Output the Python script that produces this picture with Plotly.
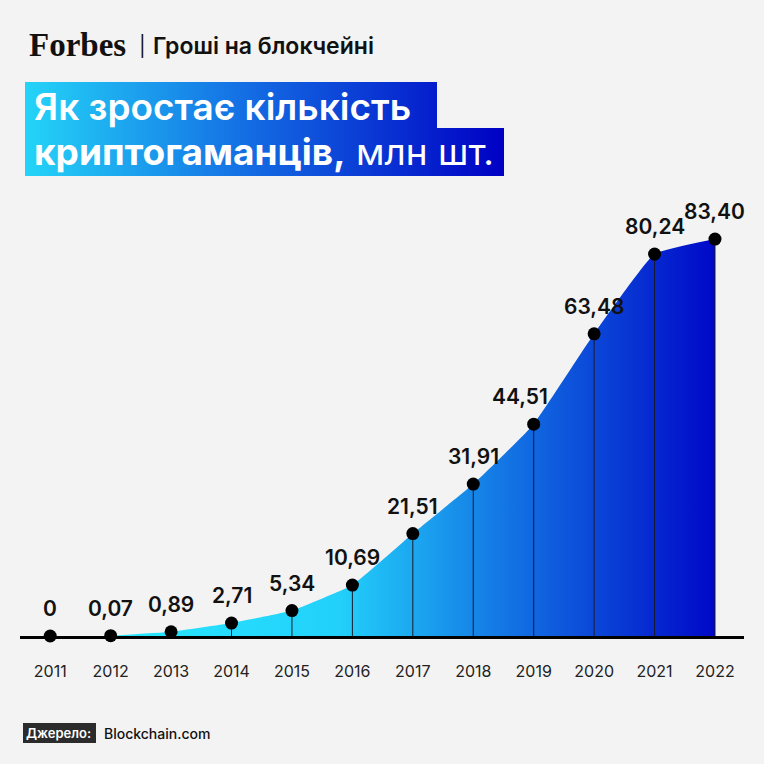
import plotly.graph_objects as go

# Data: crypto wallets, mln
years = [2011, 2012, 2013, 2014, 2015, 2016, 2017, 2018, 2019, 2020, 2021, 2022]
wallets = [0, 0.07, 0.89, 2.71, 5.34, 10.69, 21.51, 31.91, 44.51, 63.48, 80.24, 83.40]
year_labels = [str(y) for y in years]
value_labels = [f"{v:.2f}".replace(".", ",") if v else "0" for v in wallets]

W = H = 764
BG = "#f3f3f3"
FONT = "Inter"


def px(x, y):
    # pixel position -> paper coords
    return x / W, 1 - y / H


fig = go.Figure()

# gradient area under the curve (starts at 2012)
fig.add_trace(go.Scatter(
    x=years[1:], y=wallets[1:],
    mode="lines",
    line=dict(width=0, shape="spline", smoothing=0.35),
    fill="tozeroy",
    fillgradient=dict(
        type="horizontal",
        colorscale=[[0, "#28e8ff"], [0.38, "#22d0fa"], [0.6, "#1686e8"], [1, "#0008c8"]],
    ),
    hoverinfo="skip",
))

# thin drop lines from each point to the axis
drop_x, drop_y = [], []
for x, v in zip(years, wallets):
    drop_x.extend([x, x, None])
    drop_y.extend([0, v, None])
fig.add_trace(go.Scatter(
    x=drop_x, y=drop_y, mode="lines",
    line=dict(width=1, color="#1a1a2a"),
    hoverinfo="skip",
))

# points
fig.add_trace(go.Scatter(
    x=years, y=wallets,
    mode="markers",
    marker=dict(size=13, color="black"),
    cliponaxis=False,
    hoverinfo="skip",
))

# title box gradient (second axes covering the whole page in pixels)
box_x = [25, 437, 437, 504, 504, 25, 25]
box_y = [82, 82, 128, 128, 176, 176, 82]
fig.add_trace(go.Scatter(
    x=box_x, y=[H - v for v in box_y],
    xaxis="x2", yaxis="y2",
    mode="lines", line=dict(width=0),
    fill="toself",
    fillgradient=dict(
        type="horizontal",
        colorscale=[[0, "#24d4f8"], [0.45, "#1470e4"], [1, "#0000c4"]],
    ),
    hoverinfo="skip",
))

annotations = []

# value labels above the points (2019 label nudged left off the curve)
for x, v, lab in zip(years, wallets, value_labels):
    annotations.append(dict(
        x=x, y=v, xref="x", yref="y",
        xanchor="center", yanchor="bottom", yshift=13,
        xshift=-14 if x == 2019 else 0,
        showarrow=False, text=lab,
        font=dict(family=FONT, size=21, color="#111111", weight=600),
    ))


def add_text(x, y, text, size, color="#111111", family=FONT, weight=400):
    ax, ay = px(x, y)
    annotations.append(dict(
        x=ax, y=ay, xref="paper", yref="paper",
        xanchor="left", yanchor="middle", showarrow=False,
        text=text, font=dict(family=family, size=size, color=color, weight=weight),
    ))


add_text(27, 45, "Forbes", 33, "#111111", "Liberation Serif", 700)
add_text(137, 46, "|", 20, "#111111")
add_text(151, 46, "Гроші на блокчейні", 23, "#111111", weight=600)
add_text(32, 106, "Як зростає кількість", 37, "white", weight=600)
add_text(32, 151, "<b>криптогаманців,</b> млн шт.", 37, "white", weight=400)
add_text(24, 733, "Джерело:", 13, "white", weight=600)
add_text(102, 733, "Blockchain.com", 14, "#111111", weight=500)

shapes = [dict(
    type="rect", xref="paper", yref="paper",
    x0=23 / W, x1=96 / W, y0=1 - 743 / H, y1=1 - 723 / H,
    fillcolor="#2b2b2b", line=dict(width=0), layer="below",
)]

fig.update_layout(
    width=W, height=H,
    margin=dict(l=0, r=0, t=0, b=0),
    paper_bgcolor=BG, plot_bgcolor="rgba(0,0,0,0)",
    showlegend=False,
    xaxis=dict(
        domain=[20 / W, 744 / W],
        range=[2010.5, 2022.48],
        tickvals=years, ticktext=year_labels,
        tickfont=dict(family=FONT, size=16, color="#222222"),
        ticks="outside", ticklen=19, tickcolor="rgba(0,0,0,0)",
        showgrid=False, zeroline=False,
        showline=True, linewidth=3, linecolor="black",
        fixedrange=True,
    ),
    yaxis=dict(
        domain=[128 / H, 574 / H],
        range=[0, 93.7],
        visible=False, showgrid=False, zeroline=False,
        fixedrange=True,
    ),
    xaxis2=dict(domain=[0, 1], range=[0, W], visible=False, anchor="y2", fixedrange=True),
    yaxis2=dict(domain=[0, 1], range=[0, H], visible=False, anchor="x2", fixedrange=True),
    annotations=annotations,
    shapes=shapes,
)

fig.write_html("out.html", config={"displayModeBar": False},
               post_script="document.body.style.margin='0';")
